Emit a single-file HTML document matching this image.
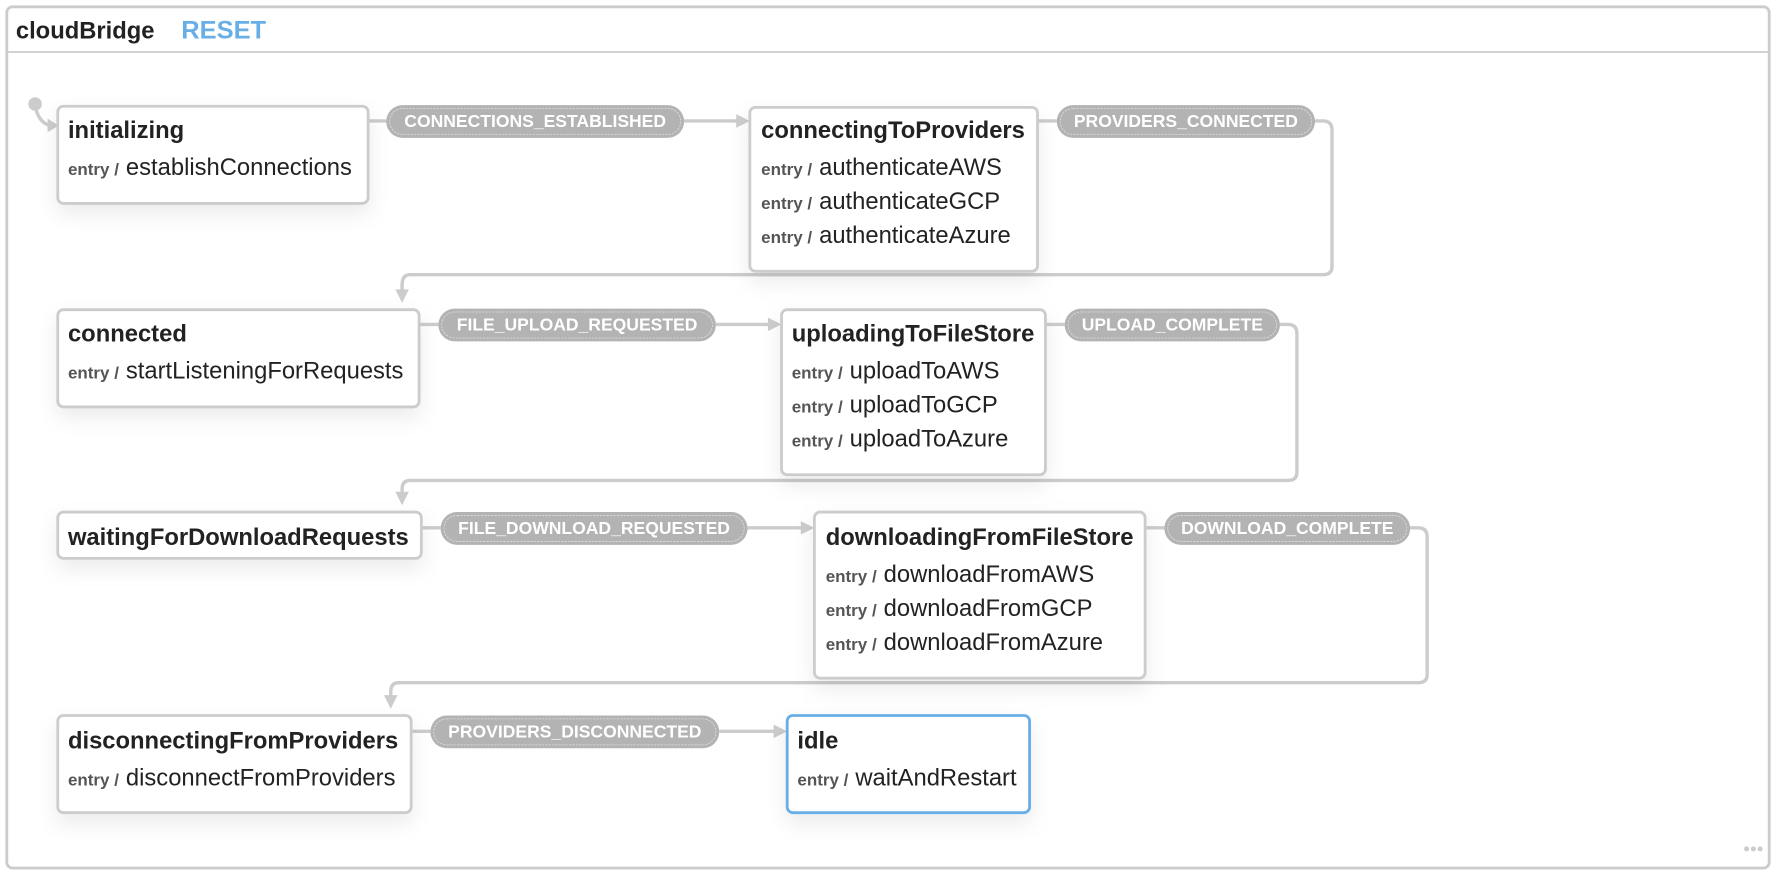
<!DOCTYPE html>
<html><head><meta charset="utf-8"><style>
html,body{margin:0;padding:0;background:#fff;width:1776px;height:876px;overflow:hidden}
svg{display:block}
text{font-family:"Liberation Sans",Arial,sans-serif}
.t{font-size:21px;font-weight:bold;fill:#222}
.e{font-size:15px;font-weight:bold;fill:#555}
.a{font-size:21px;fill:#222}
.l{font-size:15.5px;font-weight:bold;fill:#fff}
.n{fill:#fff;stroke:#ccc;stroke-width:2.5}
.p{fill:#b3b3b3}
.pi{fill:none;stroke:#ddd;stroke-width:0.7;stroke-dasharray:2 1}
.c{fill:none;stroke:#ccc;stroke-width:3}
.h{fill:#ccc}
</style></head><body>
<svg width="1776" height="876" viewBox="0 0 1568 775" preserveAspectRatio="none">
<defs>
<filter id="sh" x="-20%" y="-20%" width="150%" height="160%"><feDropShadow dx="0" dy="8" stdDeviation="9" flood-color="#000" flood-opacity="0.08"/></filter>
</defs>
<rect x="6" y="6" width="1556" height="762" rx="5" fill="#fff" stroke="#ccc" stroke-width="2.5"/>
<line x1="7" y1="46" x2="1561" y2="46" stroke="#ccc" stroke-width="1.5"/>
<text x="14" y="34" style="font-size:21px;font-weight:bold;fill:#222">cloudBridge</text>
<text x="160" y="34" style="font-size:22.5px;font-weight:bold;fill:#6aaee6">RESET</text>

<circle cx="31" cy="92" r="6" fill="#ccc"/>
<path class="c" d="M31 92 Q33 108 44 111"/>
<polygon class="h" points="42,105 52,111 42,117"/>

<path class="c" d="M325 107 H341 M604 107 H652"/>
<polygon class="h" points="650,101 662,107 650,113"/>
<path class="c" d="M916 107 H933 M1161 107 H1168 Q1176 107 1176 115 V236 Q1176 243 1168 243 H362 Q355 243 355 252 V258"/>
<polygon class="h" points="349,256 355,268 361,256"/>

<path class="c" d="M370 287 H387 M632 287 H680"/>
<polygon class="h" points="678,281 690,287 678,293"/>
<path class="c" d="M923 287 H940 M1130 287 H1137 Q1145 287 1145 295 V418 Q1145 425 1137 425 H362 Q355 425 355 433 V437"/>
<polygon class="h" points="349,435 355,447 361,435"/>

<path class="c" d="M372 467 H389 M660 467 H709"/>
<polygon class="h" points="707,461 719,467 707,473"/>
<path class="c" d="M1011 467 H1028 M1245 467 H1252 Q1260 467 1260 475 V597 Q1260 604 1252 604 H352 Q345 604 345 612 V617"/>
<polygon class="h" points="339,615 345,627 351,615"/>

<path class="c" d="M363 647 H380 M635 647 H685"/>
<polygon class="h" points="683,641 695,647 683,653"/>

<g>
<rect class="p" x="341" y="93" width="263" height="29" rx="14.5"/><rect class="pi" x="344" y="96" width="257" height="23" rx="11.5"/>
<text class="l" x="472.5" y="112.5" text-anchor="middle">CONNECTIONS_ESTABLISHED</text>
<rect class="p" x="933" y="93" width="228" height="29" rx="14.5"/><rect class="pi" x="936" y="96" width="222" height="23" rx="11.5"/>
<text class="l" x="1047" y="112.5" text-anchor="middle">PROVIDERS_CONNECTED</text>
<rect class="p" x="387" y="273" width="245" height="29" rx="14.5"/><rect class="pi" x="390" y="276" width="239" height="23" rx="11.5"/>
<text class="l" x="509.5" y="292.5" text-anchor="middle">FILE_UPLOAD_REQUESTED</text>
<rect class="p" x="940" y="273" width="190" height="29" rx="14.5"/><rect class="pi" x="943" y="276" width="184" height="23" rx="11.5"/>
<text class="l" x="1035" y="292.5" text-anchor="middle">UPLOAD_COMPLETE</text>
<rect class="p" x="389" y="453" width="271" height="29" rx="14.5"/><rect class="pi" x="392" y="456" width="265" height="23" rx="11.5"/>
<text class="l" x="524.5" y="472.5" text-anchor="middle">FILE_DOWNLOAD_REQUESTED</text>
<rect class="p" x="1028" y="453" width="217" height="29" rx="14.5"/><rect class="pi" x="1031" y="456" width="211" height="23" rx="11.5"/>
<text class="l" x="1136.5" y="472.5" text-anchor="middle">DOWNLOAD_COMPLETE</text>
<rect class="p" x="380" y="633" width="255" height="29" rx="14.5"/><rect class="pi" x="383" y="636" width="249" height="23" rx="11.5"/>
<text class="l" x="507.5" y="652.5" text-anchor="middle">PROVIDERS_DISCONNECTED</text>
</g>

<g filter="url(#sh)">
<rect class="n" x="51" y="94" width="274" height="86" rx="5"/>
<rect class="n" x="662" y="95" width="254" height="145" rx="5"/>
<rect class="n" x="51" y="274" width="319" height="86" rx="5"/>
<rect class="n" x="690" y="274" width="233" height="146" rx="5"/>
<rect class="n" x="51" y="453" width="321" height="41" rx="5"/>
<rect class="n" x="719" y="453" width="292" height="147" rx="5"/>
<rect class="n" x="51" y="633" width="312" height="86" rx="5"/>
<rect x="695" y="633" width="214" height="86" rx="5" fill="#fff" stroke="#6aaee6" stroke-width="2.5"/>
</g>

<text class="t" x="60" y="122">initializing</text>
<text x="60" y="155"><tspan class="e">entry / </tspan><tspan class="a" dx="2">establishConnections</tspan></text>

<text class="t" x="672" y="122">connectingToProviders</text>
<text x="672" y="155"><tspan class="e">entry / </tspan><tspan class="a" dx="2">authenticateAWS</tspan></text>
<text x="672" y="185"><tspan class="e">entry / </tspan><tspan class="a" dx="2">authenticateGCP</tspan></text>
<text x="672" y="215"><tspan class="e">entry / </tspan><tspan class="a" dx="2">authenticateAzure</tspan></text>

<text class="t" x="60" y="302">connected</text>
<text x="60" y="335"><tspan class="e">entry / </tspan><tspan class="a" dx="2">startListeningForRequests</tspan></text>

<text class="t" x="699" y="302">uploadingToFileStore</text>
<text x="699" y="335"><tspan class="e">entry / </tspan><tspan class="a" dx="2">uploadToAWS</tspan></text>
<text x="699" y="365"><tspan class="e">entry / </tspan><tspan class="a" dx="2">uploadToGCP</tspan></text>
<text x="699" y="395"><tspan class="e">entry / </tspan><tspan class="a" dx="2">uploadToAzure</tspan></text>

<text class="t" x="60" y="482">waitingForDownloadRequests</text>

<text class="t" x="729" y="482">downloadingFromFileStore</text>
<text x="729" y="515"><tspan class="e">entry / </tspan><tspan class="a" dx="2">downloadFromAWS</tspan></text>
<text x="729" y="545"><tspan class="e">entry / </tspan><tspan class="a" dx="2">downloadFromGCP</tspan></text>
<text x="729" y="575"><tspan class="e">entry / </tspan><tspan class="a" dx="2">downloadFromAzure</tspan></text>

<text class="t" x="60" y="662">disconnectingFromProviders</text>
<text x="60" y="695"><tspan class="e">entry / </tspan><tspan class="a" dx="2">disconnectFromProviders</tspan></text>

<text class="t" x="704" y="662">idle</text>
<text x="704" y="695"><tspan class="e">entry / </tspan><tspan class="a" dx="2">waitAndRestart</tspan></text>

<circle cx="1542" cy="751" r="2.2" fill="#ccc"/><circle cx="1548" cy="751" r="2.2" fill="#ccc"/><circle cx="1554" cy="751" r="2.2" fill="#ccc"/>
</svg>
</body></html>
